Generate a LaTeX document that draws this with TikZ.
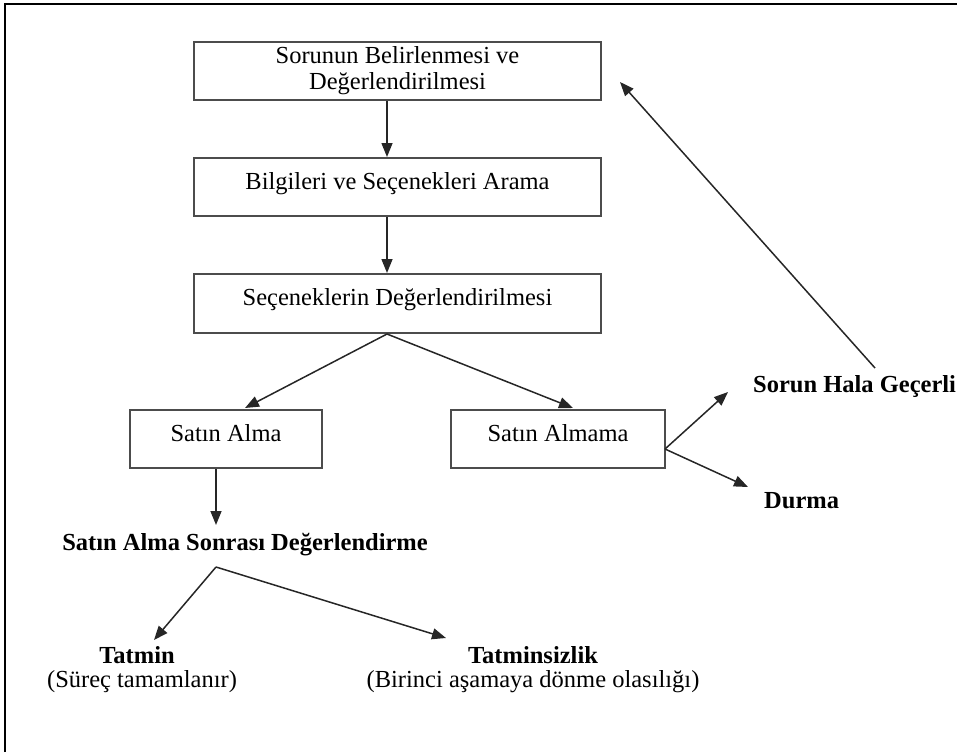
\documentclass[tikz,border=0pt]{standalone}
\usepackage{fontspec}
\setmainfont{Liberation Serif}
\usetikzlibrary{arrows.meta}
\begin{document}
\begin{tikzpicture}[x=1pt,y=-1pt,
  stepbox/.style={draw=black!70,line width=2pt,rectangle,inner sep=0pt,align=center,font=\fontsize{24.5}{26}\selectfont},
  oneline/.style={text height=18pt,text depth=14pt},
  arr/.style={draw=black!85,line width=1.5pt,-{Triangle[length=14pt,width=11pt]}},
  blabel/.style={inner sep=0pt,anchor=base,font=\fontsize{24.5}{26}\selectfont\bfseries},
  rlabel/.style={inner sep=0pt,anchor=base,font=\fontsize{24.5}{26}\selectfont}]
\useasboundingbox (0,0) rectangle (957,752);
\draw[line width=2.4pt] (5,752) -- (5,4) -- (957,4);
\node[stepbox,minimum width=407pt,minimum height=58pt] (b1) at (397.5,71) {Sorunun Belirlenmesi ve\\Değerlendirilmesi};
\node[stepbox,oneline,minimum width=407pt,minimum height=58pt] (b2) at (397.5,187) {Bilgileri ve Seçenekleri Arama};
\node[stepbox,oneline,minimum width=407pt,minimum height=59pt] (b3) at (397.5,303.5) {Seçeneklerin Değerlendirilmesi};
\node[stepbox,oneline,minimum width=192pt,minimum height=58pt] (sa) at (226,439) {Satın Alma};
\node[stepbox,oneline,minimum width=214pt,minimum height=58pt] (sam) at (558,439) {Satın Almama};
\node[blabel] (sas) at (245,550) {Satın Alma Sonrası Değerlendirme};
\node[blabel] (tat) at (137,663) {Tatmin};
\node[rlabel] (tat2) at (142,687) {(Süreç tamamlanır)};
\node[blabel] (tsz) at (533,663) {Tatminsizlik};
\node[rlabel] (tsz2) at (533,687) {(Birinci aşamaya dönme olasılığı)};
\node[blabel,anchor=base west] (shg) at (753,392) {Sorun Hala Geçerli};
\node[blabel,anchor=base west] (dur) at (764,508) {Durma};
% free connector ends near the bold labels
\coordinate (sasn) at (216,525);
\coordinate (sasb) at (216,567);
\coordinate (tatn) at (154,640);
\coordinate (tszn) at (446,638);
\coordinate (shgp) at (728,392);
\coordinate (durp) at (748,487);
\coordinate (shgt) at (875,368);
\coordinate (same) at (665,449);
\coordinate (b1e) at (620,82);
\draw[arr] ([xshift=-10.5pt]b1.south) -- ([xshift=-10.5pt]b2.north);
\draw[arr] ([xshift=-10.5pt]b2.south) -- ([xshift=-10.5pt]b3.north);
\draw[arr] ([xshift=-10.5pt]b3.south) -- ([xshift=19pt,yshift=1pt]sa.north);
\draw[arr] ([xshift=-10.5pt]b3.south) -- ([xshift=15pt,yshift=1pt]sam.north);
\draw[arr] ([xshift=-10pt]sa.south) -- (sasn);
\draw[arr] (sasb) -- (tatn);
\draw[arr] (sasb) -- (tszn);
\draw[arr] (same) -- (shgp);
\draw[arr] (same) -- (durp);
\draw[arr] (shgt) -- (b1e);
\end{tikzpicture}
\end{document}
